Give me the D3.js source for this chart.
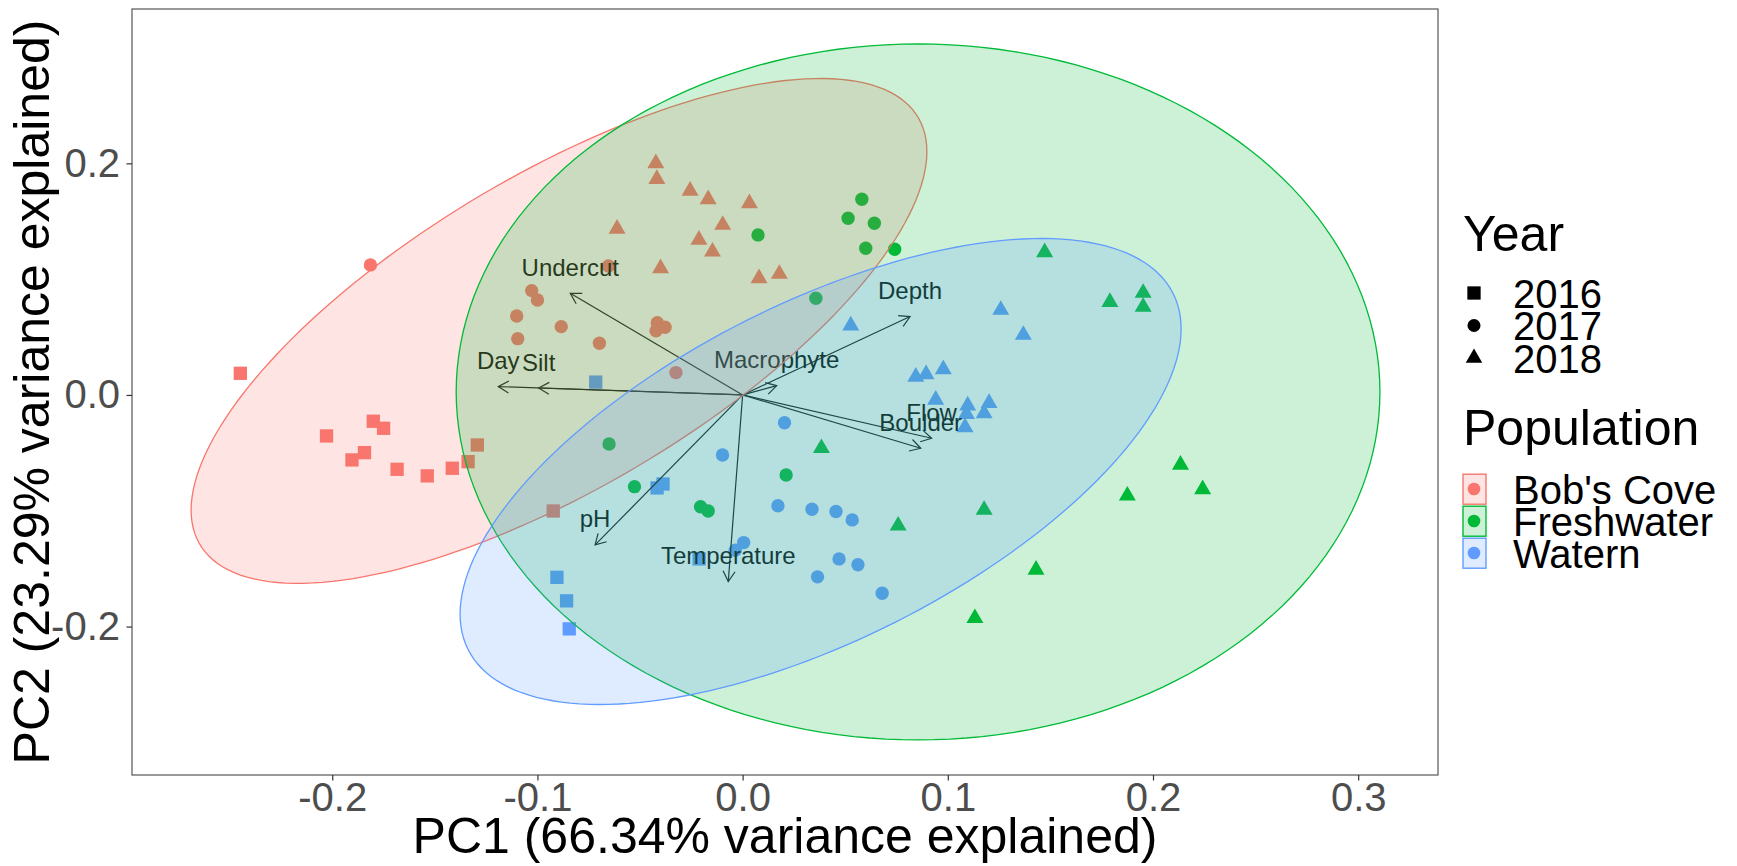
<!DOCTYPE html>
<html>
<head>
<meta charset="utf-8">
<script src="https://cdn.jsdelivr.net/npm/d3@7"></script>
<style>
  html, body { margin: 0; padding: 0; background: #ffffff; }
  svg { display: block; font-family: "Liberation Sans", Arial, Helvetica, sans-serif; }
</style>
</head>
<body>
<svg id="chart" width="1737" height="866"></svg>
<script>
// ---- PCA scores [PC1, PC2] by population and sampling year ----
const bobsCove2016 = [
  [-0.2448, 0.0187], [-0.2028, -0.0354], [-0.1800, -0.0227], [-0.1750, -0.0288],
  [-0.1904, -0.0561], [-0.1843, -0.0498], [-0.1684, -0.0642], [-0.1537, -0.0699],
  [-0.1415, -0.0633], [-0.1338, -0.0576], [-0.1293, -0.0432], [-0.0923, -0.1002]
];
const bobsCove2017 = [
  [-0.1814, 0.1123], [-0.1028, 0.0901], [-0.1000, 0.0820], [-0.1101, 0.0682],
  [-0.1096, 0.0486], [-0.0884, 0.0590], [-0.0698, 0.0446], [-0.0416, 0.0624],
  [-0.0378, 0.0585], [-0.0422, 0.0555], [-0.0654, 0.1114], [-0.0325, 0.0193]
];
const bobsCove2018 = [
  [-0.0423, 0.2001], [-0.0418, 0.1865], [-0.0256, 0.1762], [-0.0168, 0.1690],
  [0.0033, 0.1655], [-0.0097, 0.1468], [-0.0612, 0.1434], [-0.0213, 0.1339],
  [-0.0147, 0.1237], [-0.0400, 0.1094], [0.0080, 0.1008], [0.0179, 0.1045]
];
const freshwater2017 = [
  [0.0581, 0.1690], [0.0514, 0.1526], [0.0642, 0.1483], [0.0075, 0.1382],
  [0.0600, 0.1267], [0.0741, 0.1258], [0.0357, 0.0835], [-0.0651, -0.0423],
  [-0.0527, -0.0792], [-0.0205, -0.0965], [-0.0168, -0.1002], [0.0212, -0.0691]
];
const freshwater2018 = [
  [0.1472, 0.1232], [0.1790, 0.0802], [0.1952, 0.0881], [0.1952, 0.0760],
  [0.0384, -0.0460], [0.0758, -0.1129], [0.1177, -0.0993], [0.2134, -0.0604],
  [0.2242, -0.0815], [0.1875, -0.0870], [0.1430, -0.1511], [0.1132, -0.1928]
];
const watern2016 = [
  [-0.0716, 0.0111], [-0.0417, -0.0803], [-0.0388, -0.0769], [-0.0212, -0.1416],
  [-0.0905, -0.1575], [-0.0858, -0.1778], [-0.0845, -0.2020]
];
const watern2017 = [
  [0.0204, -0.0240], [-0.0098, -0.0518], [0.0172, -0.0957], [0.0338, -0.0987],
  [0.0455, -0.1006], [0.0534, -0.1079], [0.0005, -0.1275], [-0.0036, -0.1341],
  [0.0470, -0.1416], [0.0562, -0.1466], [0.0365, -0.1571], [0.0680, -0.1713]
];
const watern2018 = [
  [0.0527, 0.0600], [0.1258, 0.0734], [0.1368, 0.0518], [0.0844, 0.0157],
  [0.0894, 0.0178], [0.0978, 0.0222], [0.0941, -0.0043], [0.1097, -0.0092],
  [0.1201, -0.0071], [0.1177, -0.0158], [0.1084, -0.0280], [0.1091, -0.0166]
];

// ---- groups ----
const populations = ["Bob's Cove", "Freshwater", "Watern"];
const popColours = ["#F8766D", "#00BA38", "#619CFF"];
const years = ["2016", "2017", "2018"];
const yearShapes = ["square", "circle", "triangle"];

// ---- variable loadings (arrow tips) ----
const loadingNames = ["Undercut", "Day", "Silt", "Macrophyte", "Depth", "Flow", "Boulder", "pH", "Temperature"];
const loadingPC1 = [-0.0840, -0.1191, -0.0994, 0.0166, 0.0816, 0.0921, 0.0868, -0.0719, -0.0070];
const loadingPC2 = [0.0878, 0.0072, 0.0060, 0.0081, 0.0677, -0.0374, -0.0460, -0.1295, -0.1612];

// ---- 95% ellipses per population: centre, half-range in PC1/PC2, correlation ----
const ellipseCentre = [[-0.0895, 0.0553], [0.0855, 0.0026], [0.0380, -0.0661]];
const ellipseHalfRange = [[0.1793, 0.2180], [0.2251, 0.3005], [0.1757, 0.2012]];
const ellipseCorr = [0.710, 0.0, 0.612];

// ---- axes ----
const xTicks = [-0.2, -0.1, 0.0, 0.1, 0.2, 0.3];
const xTickLabels = ["-0.2", "-0.1", "0.0", "0.1", "0.2", "0.3"];
const yTicks = [-0.2, 0.0, 0.2];
const yTickLabels = ["-0.2", "0.0", "0.2"];
const xTitle = "PC1 (66.34% variance explained)";
const yTitle = "PC2 (23.29% variance explained)";

// Assemble score records
const scoreSets = [
  [bobsCove2016, 0, 0], [bobsCove2017, 0, 1], [bobsCove2018, 0, 2],
  [freshwater2017, 1, 1], [freshwater2018, 1, 2],
  [watern2016, 2, 0], [watern2017, 2, 1], [watern2018, 2, 2]
];
const scores = [];
scoreSets.forEach(([arr, p, yr]) => arr.forEach(([pc1, pc2]) => scores.push({ pc1, pc2, pop: p, year: yr })));

// ---- layout ----
const panel = { left: 132, right: 1438, top: 9, bottom: 775 };
const svg = d3.select("#chart");

const x = d3.scaleLinear().domain([-0.2976, 0.3389]).range([panel.left, panel.right]);
const y = d3.scaleLinear().domain([-0.3282, 0.3333]).range([panel.bottom, panel.top]);

// symbol generators
const symbolFor = {
  square: d3.symbol().type(d3.symbolSquare).size(177),
  circle: d3.symbol().type(d3.symbolCircle).size(141),
  triangle: d3.symbol().type(d3.symbolTriangle).size(125)
};

// panel background
svg.append("rect")
  .attr("x", panel.left).attr("y", panel.top)
  .attr("width", panel.right - panel.left).attr("height", panel.bottom - panel.top)
  .attr("fill", "#ffffff");

const plot = svg.append("g");

// points
plot.append("g").selectAll("path")
  .data(scores)
  .join("path")
  .attr("transform", d => `translate(${x(d.pc1)},${y(d.pc2)})`)
  .attr("d", d => symbolFor[yearShapes[d.year]]())
  .attr("fill", d => popColours[d.pop]);

// loading arrows
const ox = x(0), oy = y(0);
const arrowG = plot.append("g").attr("stroke", "#111").attr("stroke-width", 1.2).attr("fill", "none");
loadingNames.forEach((name, i) => {
  const tx = x(loadingPC1[i]), ty = y(loadingPC2[i]);
  arrowG.append("line").attr("x1", ox).attr("y1", oy).attr("x2", tx).attr("y2", ty);
  const ang = Math.atan2(ty - oy, tx - ox);
  const len = 12, spread = Math.PI / 6;
  const p1 = [tx - len * Math.cos(ang - spread), ty - len * Math.sin(ang - spread)];
  const p2 = [tx - len * Math.cos(ang + spread), ty - len * Math.sin(ang + spread)];
  arrowG.append("path").attr("d", `M${p1[0]},${p1[1]}L${tx},${ty}L${p2[0]},${p2[1]}`);
});

// loading labels
plot.append("g").selectAll("text")
  .data(loadingNames)
  .join("text")
  .attr("x", (d, i) => x(loadingPC1[i]))
  .attr("y", (d, i) => y(loadingPC2[i]) - 17.5)
  .attr("text-anchor", "middle")
  .attr("font-size", 24)
  .attr("fill", "#000")
  .text(d => d);

// ellipses (drawn over points and loadings)
const angles = d3.range(0, 361, 2).map(a => a * Math.PI / 180);
const ellipseLine = d3.line();
populations.forEach((p, i) => {
  const [cx, cy] = ellipseCentre[i];
  const [sx, sy] = ellipseHalfRange[i];
  const r = ellipseCorr[i];
  const pts = angles.map(t => [
    x(cx + sx * Math.cos(t)),
    y(cy + sy * (r * Math.cos(t) + Math.sqrt(1 - r * r) * Math.sin(t)))
  ]);
  plot.append("path")
    .attr("d", ellipseLine(pts) + "Z")
    .attr("fill", popColours[i]).attr("fill-opacity", 0.2)
    .attr("stroke", popColours[i]).attr("stroke-width", 1.3);
});

// panel border
svg.append("rect")
  .attr("x", panel.left).attr("y", panel.top)
  .attr("width", panel.right - panel.left).attr("height", panel.bottom - panel.top)
  .attr("fill", "none").attr("stroke", "#555").attr("stroke-width", 1.2);

// axes
const xAxis = svg.append("g")
  .attr("transform", `translate(0,${panel.bottom})`)
  .call(d3.axisBottom(x).tickValues(xTicks).tickFormat((d, i) => xTickLabels[i]).tickSize(5.5).tickPadding(2));
const yAxis = svg.append("g")
  .attr("transform", `translate(${panel.left},0)`)
  .call(d3.axisLeft(y).tickValues(yTicks).tickFormat((d, i) => yTickLabels[i]).tickSize(5.5).tickPadding(6.5));
[xAxis, yAxis].forEach(g => {
  g.select(".domain").remove();
  g.selectAll(".tick line").attr("stroke", "#333").attr("stroke-width", 1.2);
  g.selectAll(".tick text").attr("fill", "#4D4D4D").attr("font-size", 40)
    .attr("font-family", "'Liberation Sans', Arial, sans-serif");
});

// axis titles
svg.append("text")
  .attr("x", (panel.left + panel.right) / 2).attr("y", 853)
  .attr("text-anchor", "middle").attr("font-size", 50).attr("fill", "#000")
  .text(xTitle);
svg.append("text")
  .attr("transform", `translate(49,${(panel.top + panel.bottom) / 2}) rotate(-90)`)
  .attr("text-anchor", "middle").attr("font-size", 50).attr("fill", "#000")
  .text(yTitle);

// ---- legends ----
const legX = 1463, keyCx = 1474, labelX = 1513;

const yearLeg = svg.append("g");
yearLeg.append("text").attr("x", legX).attr("y", 251).attr("font-size", 50).attr("fill", "#000").text("Year");
const yearLegSymbol = {
  square: d3.symbol().type(d3.symbolSquare).size(177),
  circle: d3.symbol().type(d3.symbolCircle).size(133),
  triangle: d3.symbol().type(d3.symbolTriangle).size(118)
};
years.forEach((yr, i) => {
  const cy = 293 + i * 32.5;
  yearLeg.append("path")
    .attr("transform", `translate(${keyCx},${cy})`)
    .attr("d", yearLegSymbol[yearShapes[i]]())
    .attr("fill", "#000");
  yearLeg.append("text").attr("x", labelX).attr("y", cy + 14.5)
    .attr("font-size", 40).attr("fill", "#000").text(yr);
});

const popLeg = svg.append("g");
popLeg.append("text").attr("x", legX).attr("y", 445).attr("font-size", 50).attr("fill", "#000").text("Population");
populations.forEach((p, i) => {
  const top = 473.5 + i * 32;
  popLeg.append("circle").attr("cx", keyCx).attr("cy", top + 15.5).attr("r", 6.3).attr("fill", popColours[i]);
  popLeg.append("rect")
    .attr("x", 1463).attr("y", top + 0.7).attr("width", 23).attr("height", 30)
    .attr("fill", popColours[i]).attr("fill-opacity", 0.2)
    .attr("stroke", popColours[i]).attr("stroke-width", 1.4);
  popLeg.append("text").attr("x", labelX).attr("y", top + 15.5 + 14.5)
    .attr("font-size", 40).attr("fill", "#000").text(p);
});
</script>
</body>
</html>
